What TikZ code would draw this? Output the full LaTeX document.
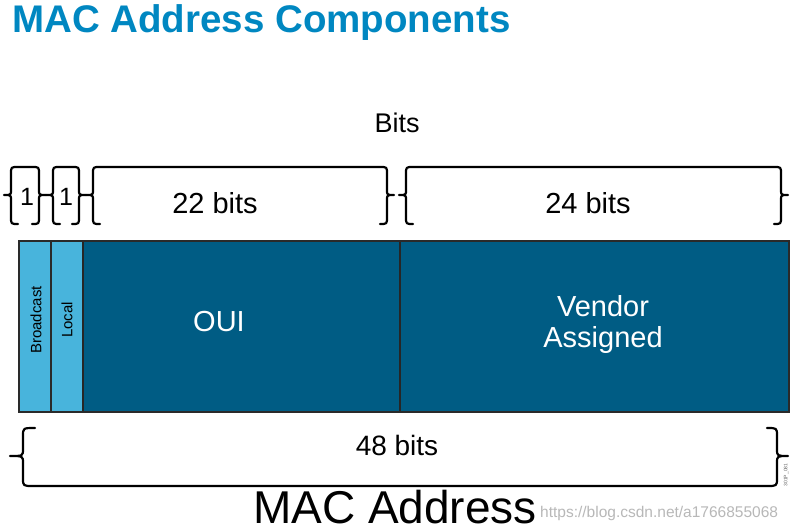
\documentclass[tikz,border=0pt]{standalone}
\usepackage{fontspec}
\setmainfont{Liberation Sans}
\definecolor{titleblue}{HTML}{0087C1}
\definecolor{lightcell}{HTML}{48B4DC}
\definecolor{darkcell}{HTML}{005C84}
\definecolor{cellline}{HTML}{2A2A2A}
\definecolor{wmgray}{HTML}{B8B8B8}
\tikzset{
  brace/.style={draw=black,line width=2.2pt,line join=round,line cap=round},
  txt/.style={inner sep=0pt,anchor=base},
  cell/.style={draw=cellline,line width=1.4pt},
}
\newcommand\topbr[2]{%
  \draw[brace] ({#1+14},224) .. controls ({#1+7},224) .. ({#1+7},217) -- ({#1+7},200)
    .. controls ({#1+7},195) .. ({#1},195) .. controls ({#1+7},195) .. ({#1+7},190)
    -- ({#1+7},174) .. controls ({#1+7},167) .. ({#1+14},167) -- ({#2-14},167)
    .. controls ({#2-7},167) .. ({#2-7},174) -- ({#2-7},190)
    .. controls ({#2-7},195) .. ({#2},195) .. controls ({#2-7},195) .. ({#2-7},200)
    -- ({#2-7},217) .. controls ({#2-7},224) .. ({#2-14},224);}
\begin{document}
\begin{tikzpicture}[x=1pt,y=-1pt]
\useasboundingbox[fill=white] (0,0) rectangle (795,532);
% title
\node[txt,anchor=base west,text=titleblue,font=\fontsize{38.5}{40}\selectfont\bfseries] (title) at (12,33) {MAC Address Components};
\node[txt,font=\fontsize{27}{30}\selectfont] (bits) at (397,132) {Bits};
% top braces
\topbr{4}{46}
\topbr{46}{86}
\topbr{86}{394}
\topbr{399}{788}
\node[txt,font=\fontsize{25}{28}\selectfont] (one1) at (27,205) {1};
\node[txt,font=\fontsize{25}{28}\selectfont] (one2) at (66,205) {1};
\node[txt,font=\fontsize{29}{32}\selectfont] (b22) at (215,213) {22 bits};
\node[txt,font=\fontsize{29}{32}\selectfont] (b24) at (588,213) {24 bits};
% cells
\path[fill=lightcell] (19,241) rectangle (83,412);
\path[fill=darkcell] (83,241) rectangle (789,412);
\draw[cellline,line width=1.4pt] (51,241) -- (51,412);
\draw[black!85,line width=1.6pt] (83,241) -- (83,412);
\draw[black!85,line width=1.8pt] (400,241) -- (400,412);
\draw[cell] (19,241) rectangle (789,412);
\node[txt,anchor=center,rotate=90,font=\fontsize{15}{17}\selectfont] (bc) at (36,320) {Broadcast};
\node[txt,anchor=center,rotate=90,font=\fontsize{15}{17}\selectfont] (loc) at (67,320) {Local};
\node[txt,text=white,font=\fontsize{29}{32}\selectfont] (oui) at (219,331) {OUI};
\node[txt,text=white,font=\fontsize{29}{32}\selectfont] (ven) at (603,316) {Vendor};
\node[txt,text=white,font=\fontsize{29}{32}\selectfont] (ass) at (603,347) {Assigned};
% bottom brace
\draw[brace] (35,428) .. controls (23,428) .. (23,436) -- (23,449)
  .. controls (23,456) .. (10,456) .. controls (23,456) .. (23,463)
  -- (23,478) .. controls (23,486) .. (33,486) -- (767,486)
  .. controls (777,486) .. (777,478) -- (777,463)
  .. controls (777,456) .. (788,456) .. controls (777,456) .. (777,449)
  -- (777,436) .. controls (777,428) .. (767,428);
\node[txt,font=\fontsize{28}{31}\selectfont] (b48) at (397,455) {48 bits};
\node[txt,text depth=0pt,font=\fontsize{46}{48}\selectfont] (mac) at (395,523) {MAC Address};
\node[inner sep=0pt,rotate=90,text=black!60,font=\fontsize{5}{6}\selectfont] (code) at (786,475) {301P\_081};
\node[txt,anchor=base west,text=wmgray,font=\fontsize{15.5}{17}\selectfont] (wm) at (540,517) {https://blog.csdn.net/a1766855068};
\end{tikzpicture}
\end{document}
